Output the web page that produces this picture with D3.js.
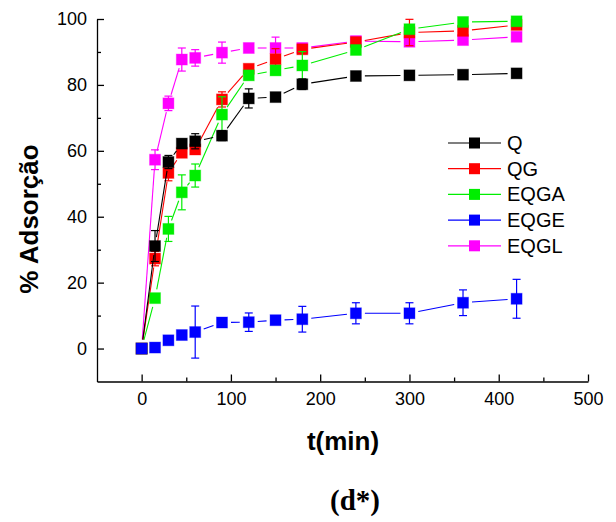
<!DOCTYPE html>
<html><head><meta charset="utf-8">
<script src="https://cdn.jsdelivr.net/npm/d3@7"></script>
<style>body{margin:0;background:#fff}svg{display:block}</style>
</head><body>
<script>
const times = [0, 15, 30, 45, 60, 90, 120, 150, 180, 240, 300, 360, 420];
const seriesNames = ["Q", "QG", "EQGA", "EQGE", "EQGL"];
const seriesColors = ["#000000", "#ff0000", "#00ee00", "#0000ff", "#ff00ff"];
const Q    = [0, 31.1, 56.6, 62.2, 62.9, 64.6, 75.9, 76.3, 80.2, 82.7, 82.9, 83.1, 83.5];
const QG   = [0, 27.3, 53.3, 59.4, 60.4, 75.6, 84.9, 87.8, 90.8, 93.0, 95.9, 96.4, 98.2];
const EQGA = [0, 15.3, 36.3, 47.4, 52.5, 71.0, 82.9, 84.4, 85.9, 90.6, 96.9, 99.1, 99.3];
const EQGE = [0, 0.3, 2.5, 4.1, 5.0, 7.9, 8.0, 8.6, 8.9, 10.7, 10.7, 13.9, 15.1];
const EQGL = [0, 57.3, 74.4, 87.7, 88.2, 89.8, 91.2, 91.2, 91.2, 93.3, 93.1, 93.6, 94.6];
const errQ    = [0, 4.7, 2.0, 1.0, 2.3, 1.5, 2.9, 0.8, 1.6, 0.5, 0.5, 0.5, 0.5];
const errQG   = [0, 2.2, 2.4, 1.0, 1.0, 2.3, 1.0, 3.2, 1.0, 0.5, 4.0, 0.5, 0.5];
const errEQGA = [0, 1.0, 3.8, 5.3, 3.5, 5.4, 1.0, 1.0, 4.2, 0.5, 0.5, 0.5, 0.5];
const errEQGE = [0, 0.5, 0.5, 0.5, 7.9, 0.5, 2.8, 1.0, 3.9, 3.2, 3.2, 3.9, 5.9];
const errEQGL = [0, 3.0, 2.2, 3.5, 2.5, 3.2, 1.0, 3.3, 1.0, 0.5, 0.5, 0.5, 0.5];
const xTicks = [0, 100, 200, 300, 400, 500];
const xMinor = [50, 150, 250, 350, 450];
const yTicks = [0, 20, 40, 60, 80, 100];
const yMinor = [10, 30, 50, 70, 90];
const xTitle = "t(min)";
const yTitle = "% Adsorção";
const caption = "(d*)";

const values = [Q, QG, EQGA, EQGE, EQGL];
const errors = [errQ, errQG, errEQGA, errEQGE, errEQGL];
const drawOrder = [4, 1, 2, 0, 3];

const W = 616, H = 522;
const svg = d3.select("body").append("svg").attr("width", W).attr("height", H);
const x = d3.scaleLinear().domain([-50, 500]).range([97, 588]);
const y = d3.scaleLinear().domain([-10, 100]).range([381.5, 19]);
const font = "'Liberation Sans', Arial, sans-serif";

// axes
const gx = svg.append("g").attr("transform", `translate(0,${y(-10)})`)
  .call(d3.axisBottom(x).tickValues(xTicks).tickSizeInner(-7).tickSizeOuter(0).tickPadding(11).tickFormat(d3.format("d")));
const gxm = svg.append("g").attr("transform", `translate(0,${y(-10)})`)
  .call(d3.axisBottom(x).tickValues(xMinor).tickSizeInner(-4).tickSizeOuter(0).tickFormat(""));
gxm.select(".domain").remove();
const gy = svg.append("g").attr("transform", `translate(${x(-50)},0)`)
  .call(d3.axisLeft(y).tickValues(yTicks).tickSizeInner(-7).tickSizeOuter(0).tickPadding(10).tickFormat(d3.format("d")));
const gym = svg.append("g").attr("transform", `translate(${x(-50)},0)`)
  .call(d3.axisLeft(y).tickValues(yMinor).tickSizeInner(-4).tickSizeOuter(0).tickFormat(""));
gym.select(".domain").remove();
svg.selectAll(".domain, .tick line").attr("stroke", "#000").attr("stroke-width", 1.3);
svg.selectAll(".tick text").attr("font-family", font).attr("font-size", 18).attr("fill", "#000");

// series
const ms = 11, gap = 9;
drawOrder.forEach(si => {
  const col = seriesColors[si];
  const vals = values[si], errs = errors[si];
  const g = svg.append("g");
  // gapped connecting line
  for (let i = 0; i < times.length - 1; i++) {
    const x1 = x(times[i]), y1 = y(vals[i]), x2 = x(times[i+1]), y2 = y(vals[i+1]);
    const dx = x2 - x1, dy = y2 - y1, L = Math.hypot(dx, dy);
    if (L <= 2 * gap) continue;
    const ux = dx / L, uy = dy / L;
    g.append("line").attr("x1", x1 + ux * gap).attr("y1", y1 + uy * gap)
      .attr("x2", x2 - ux * gap).attr("y2", y2 - uy * gap)
      .attr("stroke", col).attr("stroke-width", 1.1);
  }
  // error bars
  times.forEach((t, i) => {
    const e = errs[i];
    if (!e) return;
    const cx = x(t), yt = y(vals[i] + e), yb = y(vals[i] - e);
    g.append("line").attr("x1", cx).attr("x2", cx).attr("y1", yt).attr("y2", yb).attr("stroke", col).attr("stroke-width", 1.2);
    g.append("line").attr("x1", cx - 4).attr("x2", cx + 4).attr("y1", yt).attr("y2", yt).attr("stroke", col).attr("stroke-width", 1.2);
    g.append("line").attr("x1", cx - 4).attr("x2", cx + 4).attr("y1", yb).attr("y2", yb).attr("stroke", col).attr("stroke-width", 1.2);
  });
  g.selectAll("rect").data(times).enter().append("rect")
    .attr("x", d => x(d) - ms / 2).attr("y", (d, i) => y(vals[i]) - ms / 2)
    .attr("width", ms).attr("height", ms).attr("fill", col)
    .attr("stroke", col).attr("stroke-opacity", 0.35).attr("stroke-width", 1);
});

// legend
const leg = svg.append("g");
seriesNames.forEach((n, i) => {
  const cy = 143 + i * 25.7;
  leg.append("line").attr("x1", 448).attr("x2", 501).attr("y1", cy).attr("y2", cy).attr("stroke", seriesColors[i]).attr("stroke-width", 1.2);
  leg.append("rect").attr("x", 474.5 - ms / 2).attr("y", cy - ms / 2).attr("width", ms).attr("height", ms).attr("fill", seriesColors[i]);
  leg.append("text").attr("x", 507).attr("y", cy + 7).attr("font-family", font).attr("font-size", 20).text(n);
});

// titles
svg.append("text").attr("x", 343).attr("y", 450).attr("text-anchor", "middle")
  .attr("font-family", font).attr("font-weight", "bold").attr("font-size", 26).text(xTitle);
svg.append("text").attr("transform", "translate(38,219) rotate(-90)").attr("text-anchor", "middle")
  .attr("font-family", font).attr("font-weight", "bold").attr("font-size", 26).text(yTitle);
svg.append("text").attr("x", 355).attr("y", 510).attr("text-anchor", "middle")
  .attr("font-family", "'Liberation Serif', 'Times New Roman', serif").attr("font-weight", "bold").attr("font-size", 29).text(caption);
</script>
</body></html>
